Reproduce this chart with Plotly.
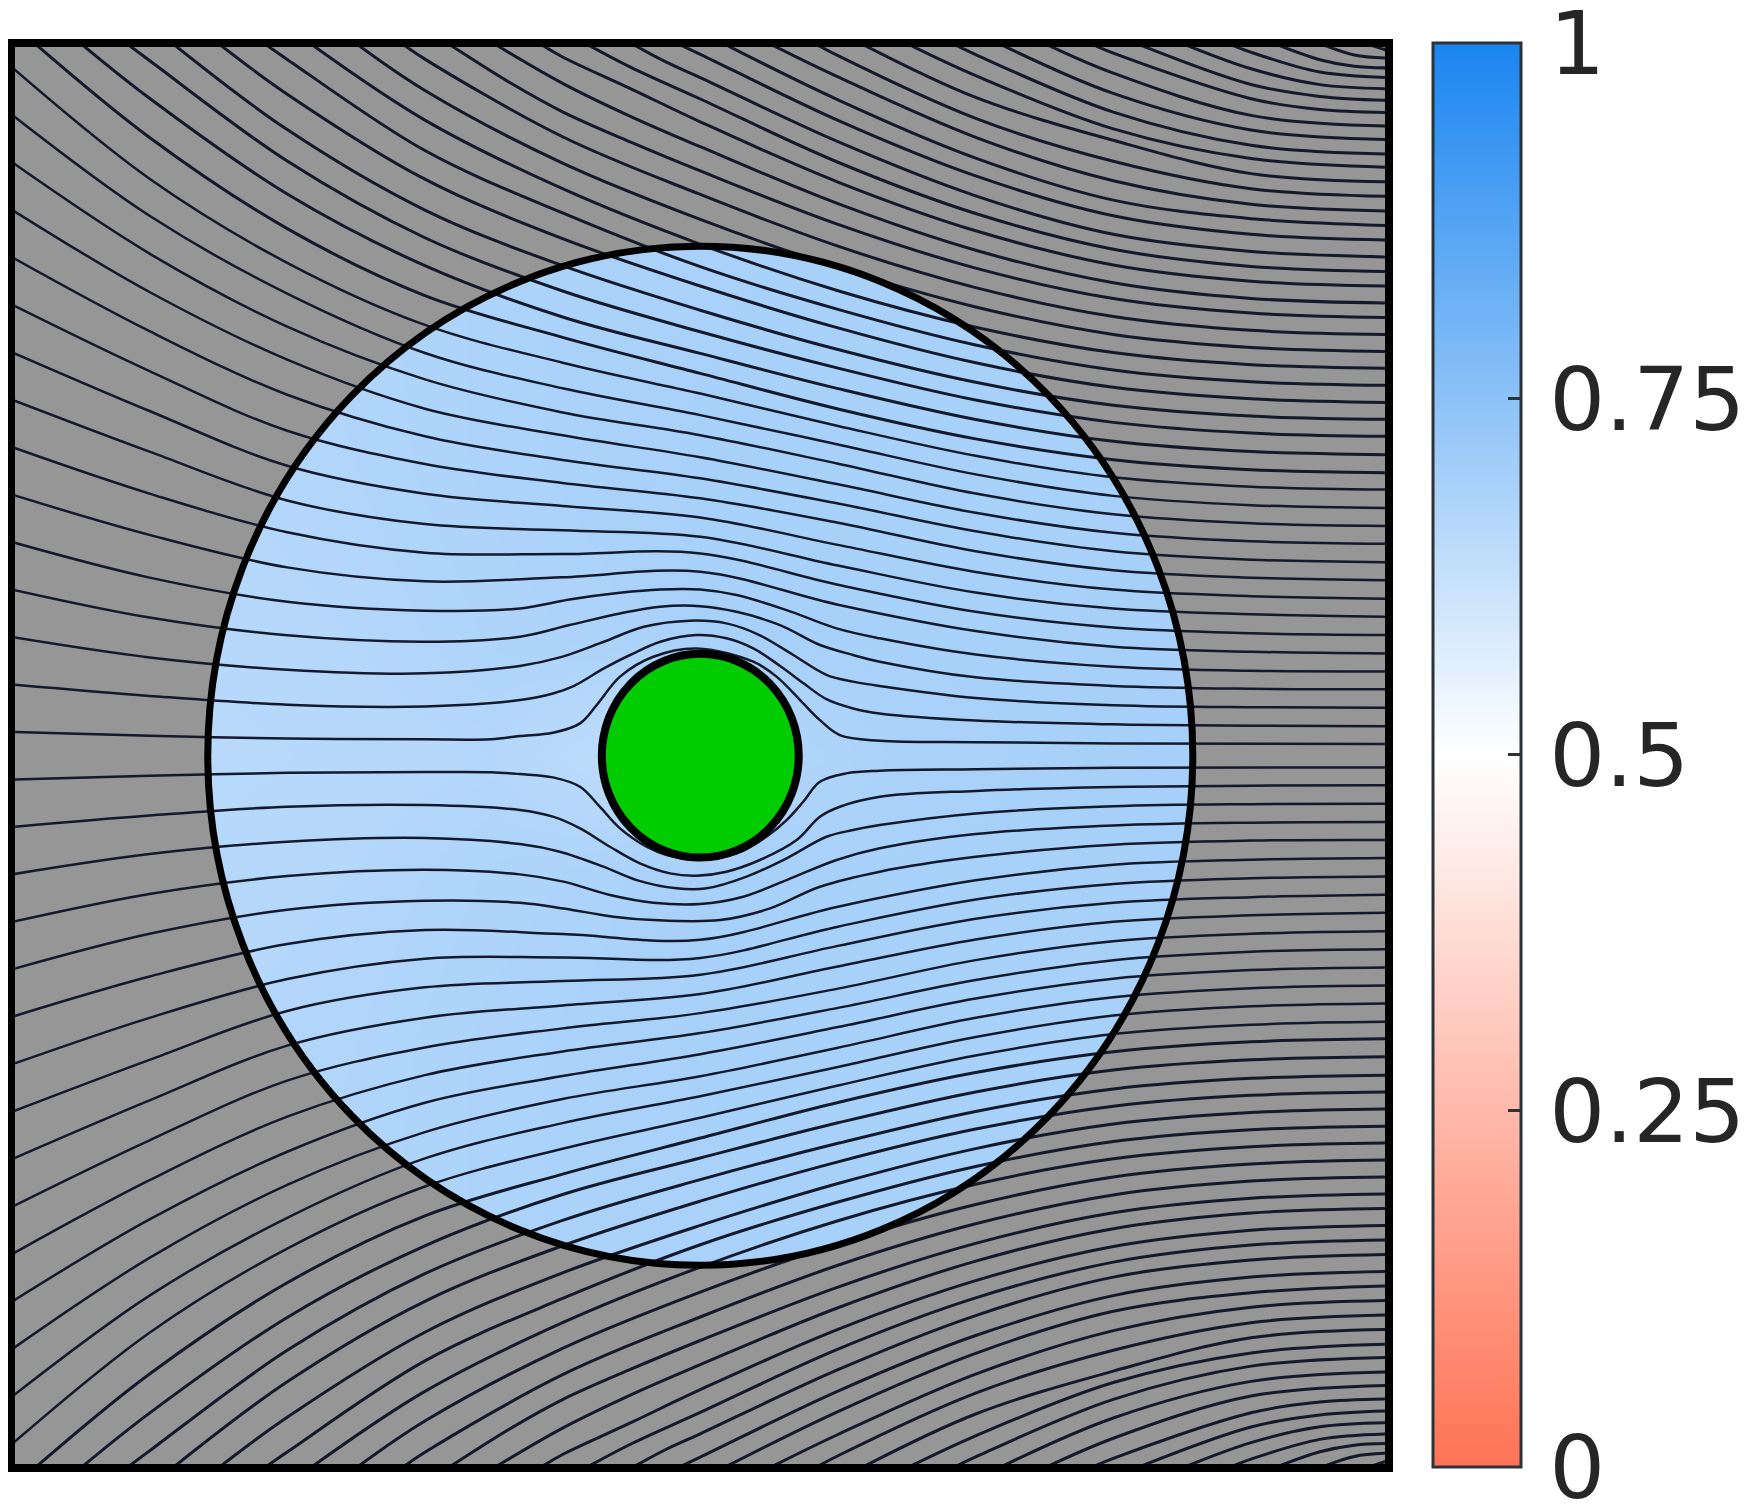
import numpy as np
import plotly.graph_objects as go

# Positions are in plot units: 0-1000 across, 0-1000 down from the top edge
stations_x = [0, 100, 200, 300, 400, 500, 600, 700, 800, 900, 1000]

# Streamlines entering through the left edge, upper half
left_upper_y = [
    [16.7, 95, 154, 197.6, 224.1, 245.8, 268.5, 289.5, 304.6, 311.2, 313.2],
    [50, 121, 175.6, 217.3, 242.1, 260.9, 281.5, 302.5, 317.6, 324.1, 326.1],
    [83.3, 147.5, 198.8, 235.8, 259, 275, 295, 316, 330.5, 336.8, 338.7],
    [116.7, 174.5, 222, 256.4, 275.1, 290.5, 309.5, 329.5, 343.5, 349.5, 351.3],
    [150, 202, 246.6, 275.8, 292.4, 305.3, 323, 342.5, 356.5, 362.4, 364.2],
    [183.3, 230, 271.9, 295.2, 308.6, 319.3, 336.5, 356.5, 369.8, 375, 376.8],
    [216.7, 258, 296.5, 316.1, 324.7, 332.7, 352, 371, 383.4, 388, 389.8],
    [250, 286.5, 320.8, 337.4, 341.8, 346.3, 366.5, 385.5, 396.7, 400.7, 402.4],
    [283.3, 316, 343.2, 357.5, 358.4, 358, 380, 399, 410, 414, 415.3],
    [316.7, 345, 367.8, 377.6, 374.8, 370.8, 394, 412.5, 423.5, 427, 428.2],
]

# Same, lower half
left_lower_y = [
    [983.3, 905, 846, 802.4, 775.9, 754.2, 731.5, 710.5, 695.4, 688.8, 686.8],
    [950, 879, 824.4, 782.7, 757.9, 739.1, 718.5, 697.5, 682.4, 675.9, 673.9],
    [916.7, 852.5, 801.2, 764.2, 741, 725, 705, 684, 669.5, 663.2, 661.3],
    [883.3, 825.5, 778, 743.6, 724.9, 709.5, 690.5, 670.5, 656.5, 650.5, 648.7],
    [850, 798, 753.4, 724.2, 707.6, 694.7, 677, 657.5, 643.5, 637.6, 635.8],
    [816.7, 770, 728.1, 704.8, 691.4, 680.7, 663.5, 643.5, 630.2, 625, 623.2],
    [783.3, 742, 703.5, 683.9, 675.3, 667.3, 648, 629, 616.6, 612, 610.2],
    [750, 713.5, 679.2, 662.6, 658.2, 653.7, 633.5, 614.5, 603.3, 599.3, 597.6],
    [716.7, 684, 656.8, 642.5, 641.6, 642, 620, 601, 590, 586, 584.7],
    [683.3, 655, 632.2, 622.4, 625.2, 629.2, 606, 587.5, 576.5, 573, 571.8],
]

# The five lines each side that bend round the cylinder
near_upper_x = [
    [0, 100, 200, 300, 369, 405, 441.7, 470.7, 500, 526.4, 562.7, 599, 630.4, 700, 800, 900, 1000],
    [0, 100, 200, 300, 369, 405, 441.7, 470.7, 500, 526.4, 557.9, 587, 611, 630.4, 700, 800, 900, 1000],
    [0, 100, 200, 300, 369, 398, 430, 459, 492.5, 519, 543, 567.5, 592, 611, 630.4, 700, 800, 900, 1000],
    [0, 100, 200, 300, 369, 393, 408, 430, 449, 471, 497, 519, 538.5, 558, 575, 592, 611, 630, 700, 800, 900, 1000],
    [0, 100, 200, 300, 348, 369, 393, 412.7, 424.8, 441.7, 465.9, 497.4, 538.5, 555.4, 574.8, 586.9, 601.4, 630.4, 700, 800, 1000],
]
near_upper_y = [
    [350, 375, 391.9, 398.2, 396.6, 390.3, 385.6, 383.3, 383.3, 387.2, 397.8, 410.6, 417.6, 429, 437.5, 440.4, 440.8],
    [383.3, 403, 415.5, 420, 416.5, 408.3, 400.1, 395.4, 395, 399, 408.3, 422.3, 429.3, 434, 445, 451, 453, 453.4],
    [416.7, 431, 439.6, 442.2, 437, 431, 420, 409.5, 405.2, 407.1, 415.3, 429.3, 443.4, 448, 451.1, 459.5, 464.5, 466, 466.3],
    [450, 458, 464.2, 465.4, 460.9, 456.3, 451.1, 438.7, 429.3, 420, 415.3, 417.6, 424.7, 437, 449.2, 460.5, 466.8, 470.3, 475.3, 478, 479, 479.3],
    [483.3, 486, 488, 488.5, 488.4, 486.2, 483.9, 477.3, 464.4, 444.5, 430.5, 424.7, 434, 444.5, 463.3, 475, 485.5, 489.5, 490.5, 491.5, 491.8],
]
near_lower_x = [
    [0, 100, 200, 300, 369, 400.6, 436.9, 465.9, 514.3, 550.6, 586.9, 630.4, 700, 800, 900, 1000],
    [0, 100, 200, 300, 369, 400.6, 434.4, 465.9, 500, 531.2, 562.7, 599, 630.4, 700, 800, 900, 1000],
    [0, 100, 200, 300, 369, 398, 429.6, 453.8, 482.8, 504.6, 533.6, 562.7, 591.7, 611, 630.4, 700, 800, 900, 1000],
    [0, 100, 200, 300, 369, 393, 412.7, 434.4, 456.2, 478, 497.4, 519, 543.3, 570, 586.9, 601.4, 630.4, 700, 800, 900, 1000],
    [0, 100, 200, 300, 348, 369, 393, 412.7, 427, 441.7, 461, 475.6, 497.4, 526.4, 548, 562.7, 574.8, 586.9, 606, 630.4, 700, 800, 1000],
]
near_lower_y = [
    [650, 625, 608.1, 601.8, 603.2, 607.2, 613, 615.4, 615.4, 607.2, 592, 581.4, 571, 562.5, 559.6, 559.2],
    [616.7, 597, 584.5, 580, 583.3, 588.4, 597.8, 603.2, 604.1, 599, 587.3, 573.2, 565, 555, 549, 547, 546.6],
    [583.3, 569, 560.4, 557.8, 562, 567.4, 577.9, 587.3, 593.1, 593.1, 584.9, 572, 556.9, 552.2, 548.7, 540.5, 535.5, 534, 533.7],
    [550, 542, 535.8, 534.6, 538.1, 542.8, 551, 563.9, 575.6, 582.6, 584.2, 581.4, 573.2, 559.2, 542.8, 535.8, 528.8, 524.7, 522, 521, 520.7],
    [516.7, 514, 512, 511.5, 511.6, 512.9, 515.2, 521.8, 535.8, 551, 563.9, 569.7, 573.2, 568.6, 556.9, 545.2, 532.3, 518.3, 512.4, 510.5, 509.5, 508.5, 508.2],
]

# Lines entering through the top edge: where they enter, then y at the last stations
top_seed_x = [16.7, 50, 83.3, 116.7, 150, 183.3, 216.7, 250, 283.3,
              516.7, 550, 583.3, 616.7, 650, 683.3, 716.7, 750]
top_y = [
    [66, 130, 177, 206.3, 231.6, 256.6, 277.6, 292.2, 299.2, 301.3],
    [38.5, 105.7, 156, 192, 217.6, 242.3, 264, 279.3, 286.5, 288.7],
    [12, 82.6, 136.4, 173.8, 202.4, 227.9, 250.3, 266, 273.5, 275.8],
    [60.5, 117, 156, 187.3, 214.9, 237.9, 254, 261.6, 263.9],
    [35.6, 95.3, 137, 170.3, 199.7, 224.2, 241.4, 249.5, 252],
    [11.2, 75.2, 119, 156.7, 186.7, 211.7, 229.2, 237.5, 240],
    [53.8, 102, 141, 173.6, 199.2, 217, 225.5, 228.1],
    [33, 84, 123.5, 157.4, 185, 204.3, 213.4, 216.2],
    [11, 65.5, 106, 142.3, 171.4, 191.7, 201.4, 204.3],
    [39.6, 80.5, 110, 123, 127.8],
    [23.5, 65.9, 96.4, 112.9, 117.6],
    [8.6, 52.6, 82.7, 102, 107.4],
    [37.9, 68, 91.4, 97.2],
    [22.6, 60, 80.8, 86.9],
    [7.8, 48.2, 71.5, 77.7],
    [35.1, 60.8, 67.5],
    [20.9, 50.5, 58],
]

# Lines entering through the bottom edge
bottom_y = [
    [934, 870, 823, 793.7, 768.4, 743.4, 722.4, 707.8, 700.8, 698.7],
    [961.5, 894.3, 844, 808, 782.4, 757.7, 736, 720.7, 713.5, 711.3],
    [988, 917.4, 863.6, 826.2, 797.6, 772.1, 749.7, 734, 726.5, 724.2],
    [939.5, 883, 844, 812.7, 785.1, 762.1, 746, 738.4, 736.1],
    [964.4, 904.7, 863, 829.7, 800.3, 775.8, 758.6, 750.5, 748],
    [988.8, 924.8, 881, 843.3, 813.3, 788.3, 770.8, 762.5, 760],
    [946.2, 898, 859, 826.4, 800.8, 783, 774.5, 771.9],
    [967, 916, 876.5, 842.6, 815, 795.7, 786.6, 783.8],
    [989, 934.5, 894, 857.7, 828.6, 808.3, 798.6, 795.7],
    [960.4, 919.5, 890, 877, 872.2],
    [976.5, 934.1, 903.6, 887.1, 882.4],
    [991.4, 947.4, 917.3, 898, 892.6],
    [962.1, 932, 908.6, 902.8],
    [977.4, 940, 919.2, 913.1],
    [992.2, 951.8, 928.5, 922.3],
    [964.9, 939.2, 932.5],
    [979.1, 949.5, 942],
]

# Lines entering near the middle of the top and bottom edges
mid_x = [
    [316.7, 362.6, 400, 450, 500, 600, 700, 800, 900, 1000],
    [350, 400, 450, 500, 600, 700, 800, 900, 1000],
    [383.3, 400, 450, 500, 600, 700, 800, 900, 1000],
    [416.7, 450, 500, 600, 700, 800, 900, 1000],
    [450, 475, 500, 600, 700, 800, 900, 1000],
    [483.3, 500, 600, 700, 800, 900, 1000],
]
mid_top_y = [
    [0, 28, 48, 69.5, 89.5, 127, 157.7, 179.1, 189.3, 192.4],
    [0, 28, 51.5, 72.5, 112.5, 145.2, 168, 179, 182.2],
    [0, 9.5, 32, 55, 97.3, 131.5, 155.5, 166.9, 170.3],
    [0, 17, 39, 83.4, 119.4, 144.5, 156.5, 160.1],
    [0, 13, 24, 69, 107, 134, 146, 149.9],
    [0, 7.6, 54, 93, 121, 134, 138],
]
mid_bottom_y = [
    [1000, 972, 952, 930.5, 910.5, 873, 842.3, 820.9, 810.7, 807.6],
    [1000, 972, 948.5, 927.5, 887.5, 854.8, 832, 821, 817.8],
    [1000, 990.5, 968, 945, 902.7, 868.5, 844.5, 833.1, 829.7],
    [1000, 983, 961, 916.6, 880.6, 855.5, 843.5, 839.9],
    [1000, 987, 976, 931, 893, 866, 854, 850.1],
    [1000, 992.4, 946, 907, 879, 866, 862],
]

# Tight lines in the right-hand corners
corner_x = [
    [783.3, 800, 900, 950, 1000],
    [816.7, 900, 950, 1000],
    [850, 900, 950, 1000],
    [883.3, 900, 950, 1000],
    [916.7, 950, 975, 1000],
    [950, 975, 1000],
    [983.3, 1000],
]
corner_top_y = [
    [0, 6.8, 38.8, 46.3, 48.5],
    [0, 28.8, 37.2, 40],
    [0, 17.8, 28.9, 31.8],
    [0, 6.2, 20.1, 23.9],
    [0, 11.4, 16, 17.2],
    [0, 8.1, 10.4],
    [0, 5.3],
]
corner_bottom_y = [
    [1000, 993.2, 961.2, 953.7, 951.5],
    [1000, 971.2, 962.8, 960],
    [1000, 982.2, 971.1, 968.2],
    [1000, 993.8, 979.9, 976.1],
    [1000, 988.6, 984, 982.8],
    [1000, 991.9, 989.6],
    [1000, 994.7],
]

# Blue level inside the large circle
field_x = [0, 150, 250, 350, 430, 500, 570, 650, 750, 850, 1000]
field_y = [0, 300, 420, 500, 580, 700, 1000]
field_z = [
    [0.665, 0.67, 0.675, 0.68, 0.685, 0.685, 0.69, 0.69, 0.69, 0.69, 0.69],
    [0.665, 0.665, 0.67, 0.68, 0.685, 0.69, 0.69, 0.69, 0.69, 0.69, 0.69],
    [0.66, 0.66, 0.665, 0.675, 0.68, 0.69, 0.69, 0.69, 0.69, 0.695, 0.695],
    [0.655, 0.655, 0.66, 0.665, 0.645, 0.66, 0.67, 0.685, 0.69, 0.695, 0.695],
    [0.66, 0.66, 0.665, 0.675, 0.68, 0.69, 0.69, 0.69, 0.69, 0.695, 0.695],
    [0.665, 0.665, 0.67, 0.68, 0.685, 0.69, 0.69, 0.69, 0.69, 0.69, 0.69],
    [0.665, 0.67, 0.675, 0.68, 0.685, 0.685, 0.69, 0.69, 0.69, 0.69, 0.69],
]

bar_ticks = [0, 0.25, 0.5, 0.75, 1]
bar_labels = ['\u200a0', '\u200a0.25', '\u200a0.5', '\u200a0.75', '\u200a1']
big_r = 357.7
small_r = 71.5

fig = go.Figure()

fig.add_trace(go.Heatmap(
    x=field_x, y=field_y, z=field_z, zmin=0, zmax=1, zsmooth='best',
    colorscale=[[0, '#ff7355'], [0.5, '#ffffff'], [1, '#1a85f0']],
    hoverinfo='skip',
    colorbar=dict(
        x=(1433 - 15) / 1370, xanchor='left', xpad=0, ypad=0,
        y=0.5004, yanchor='middle',
        thickness=88, thicknessmode='pixels', len=1424, lenmode='pixels',
        outlinewidth=3, outlinecolor='#2b3238',
        tickmode='array', tickvals=bar_ticks, ticktext=bar_labels,
        ticks='inside', ticklen=14, tickwidth=2.5, tickcolor='#2b3238',
        ticklabeloverflow='allow',
        tickfont=dict(family='DejaVu Sans', size=88, color='#262626'),
    ),
))

# Grey outside the large circle: square with a hole (opposite winding)
angle = np.linspace(0, -2 * np.pi, 361)
hole_x = (500 + big_r * np.cos(angle)).tolist()
hole_y = (500 + big_r * np.sin(angle)).tolist()
fig.add_trace(go.Scatter(
    x=[-20, 1020, 1020, -20, -20, None] + hole_x,
    y=[-20, -20, 1020, 1020, -20, None] + hole_y,
    mode='lines', line=dict(width=0), fill='toself', fillcolor='#969696',
    hoverinfo='skip', showlegend=False,
))


def add_line(xs, ys, width=3.0):
    fig.add_trace(go.Scatter(
        x=xs, y=ys, mode='lines',
        line=dict(color='#14192b', width=width, shape='spline', smoothing=1),
        hoverinfo='skip', showlegend=False,
    ))


for row in left_upper_y + left_lower_y:
    add_line(stations_x, row, width=2.5)
for xs, ys in zip(near_upper_x + near_lower_x, near_upper_y + near_lower_y):
    add_line(xs, ys, width=2.5)
for seed, row in zip(top_seed_x, top_y):
    add_line([seed] + stations_x[-len(row):], [0] + row)
for seed, row in zip(top_seed_x, bottom_y):
    add_line([seed] + stations_x[-len(row):], [1000] + row)
for xs, ys in zip(mid_x + mid_x, mid_top_y + mid_bottom_y):
    add_line(xs, ys)
for xs, ys in zip(corner_x + corner_x, corner_top_y + corner_bottom_y):
    add_line(xs, ys)

fig.update_layout(
    width=1739, height=1500,
    margin=dict(l=7, r=362, t=39, b=44, autoexpand=False),
    paper_bgcolor='white', plot_bgcolor='#969696',
    showlegend=False,
    shapes=[
        dict(type='circle', xref='x', yref='y',
             x0=500 - big_r, x1=500 + big_r, y0=500 - big_r, y1=500 + big_r,
             line=dict(color='black', width=7)),
        dict(type='circle', xref='x', yref='y',
             x0=500 - small_r, x1=500 + small_r, y0=500 - small_r, y1=500 + small_r,
             fillcolor='#00cc00', line=dict(color='black', width=8)),
    ],
)
axis_style = dict(showgrid=False, zeroline=False, showticklabels=False, ticks='',
                  showline=True, mirror=True, linecolor='black', linewidth=8)
fig.update_xaxes(range=[2.3, 997.3], **axis_style)
fig.update_yaxes(range=[997.2, 2.5], **axis_style)

fig.write_html("out.html")
